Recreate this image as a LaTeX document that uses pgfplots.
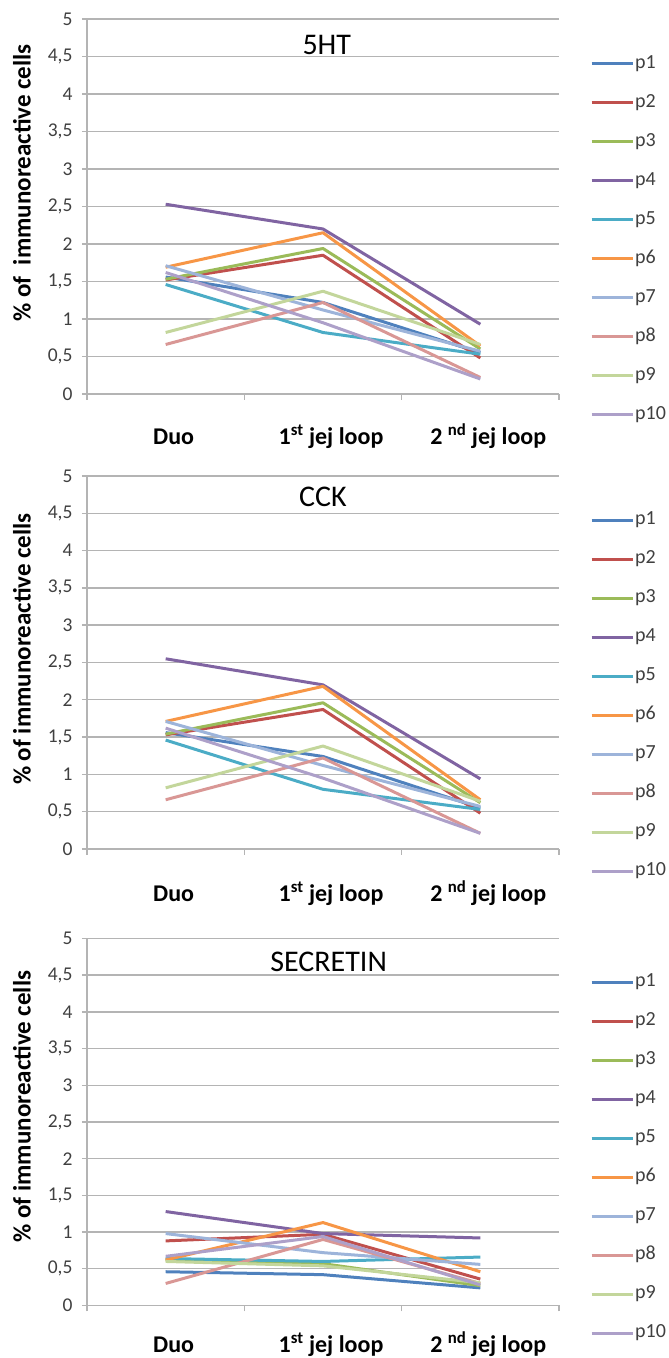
\documentclass[border=0pt]{standalone}
\usepackage{fontspec}
\setmainfont{Carlito}
\usepackage{pgfplots}
\pgfplotsset{compat=1.18}

\definecolor{c1}{HTML}{4F81BD}
\definecolor{c2}{HTML}{C0504D}
\definecolor{c3}{HTML}{9BBB59}
\definecolor{c4}{HTML}{8064A2}
\definecolor{c5}{HTML}{4BACC6}
\definecolor{c6}{HTML}{F79646}
\definecolor{c7}{HTML}{9DB4DA}
\definecolor{c8}{HTML}{D99795}
\definecolor{c9}{HTML}{C3D69B}
\definecolor{c10}{HTML}{ADA0C9}
\definecolor{gridgray}{HTML}{B4B4B4}
\definecolor{txtgray}{HTML}{404040}

\pgfplotsset{
  panel/.style={
    scale only axis, width=472pt,
    xmin=-0.5, xmax=2.5, ymin=0, ymax=5,
    axis lines*=left,
    axis line style={draw=gridgray, line width=1.4pt},
    ytick={0,0.5,...,5},
    ymajorgrids, grid style={draw=gridgray, line width=1.4pt},
    tick align=outside, major tick length=5pt, minor tick length=6pt,
    tick style={draw=gridgray, line width=1.4pt},
    xtick={0,1,2}, minor xtick={-0.5,0.5,1.5,2.5},
    major x tick style={draw=none},
    xticklabels={Duo, 1\textsuperscript{st} jej loop, 2 \textsuperscript{nd} jej loop},
    xticklabel style={font=\fontsize{24}{24}\selectfont\bfseries, anchor=base, xshift=8pt},
    yticklabel style={font=\fontsize{19.5}{19.5}\selectfont, text=txtgray, xshift=-6pt},
    /pgf/number format/use comma,
    /pgf/number format/assume math mode=true,
    ylabel style={font=\fontsize{25}{25}\selectfont\bfseries, anchor=center},
    legend style={at={(1.0657,0.907)}, anchor=north west, draw=none, fill=none,
      inner sep=0pt, row sep=20pt,
      nodes={inner sep=1pt, text height=13pt, text depth=4pt, text=txtgray,
        font=\fontsize{20}{20}\selectfont}},
    legend cell align=left,
    legend image code/.code={\draw[##1, line width=3pt] (0pt,0pt) -- (41pt,0pt);},
    no markers,
    every axis plot/.append style={line width=3pt, line join=round},
    cycle list={{c1},{c2},{c3},{c4},{c5},{c6},{c7},{c8},{c9},{c10}},
  }
}

\begin{document}
\begin{tikzpicture}
\useasboundingbox (0pt,0pt) rectangle (669pt,1358pt);

% 5HT
\begin{axis}[panel, at={(87pt,964pt)}, anchor=south west, height=375pt,
  xticklabel style={yshift=-46pt},
  ylabel={\% of~~immunoreactive cells},
  ylabel style={at={(-0.138,0.563)}}]
\addplot coordinates {(0,1.56) (1,1.22) (2,0.55)};
\addplot coordinates {(0,1.52) (1,1.85) (2,0.48)};
\addplot coordinates {(0,1.53) (1,1.94) (2,0.60)};
\addplot coordinates {(0,2.53) (1,2.20) (2,0.93)};
\addplot coordinates {(0,1.46) (1,0.82) (2,0.53)};
\addplot coordinates {(0,1.69) (1,2.15) (2,0.64)};
\addplot coordinates {(0,1.71) (1,1.12) (2,0.57)};
\addplot coordinates {(0,0.66) (1,1.22) (2,0.22)};
\addplot coordinates {(0,0.82) (1,1.37) (2,0.66)};
\addplot coordinates {(0,1.62) (1,0.95) (2,0.20)};
\legend{p1,p2,p3,p4,p5,p6,p7,p8,p9,p10}
\node[font=\fontsize{30}{30}\selectfont] at (rel axis cs:0.508,0.93) {5HT};
\end{axis}

% CCK
\begin{axis}[panel, at={(87pt,509pt)}, anchor=south west, height=373pt,
  xticklabel style={yshift=-48pt},
  ylabel={\% of immunoreactive cells},
  ylabel style={at={(-0.138,0.536)}}]
\addplot coordinates {(0,1.56) (1,1.24) (2,0.55)};
\addplot coordinates {(0,1.53) (1,1.87) (2,0.48)};
\addplot coordinates {(0,1.54) (1,1.96) (2,0.62)};
\addplot coordinates {(0,2.55) (1,2.20) (2,0.94)};
\addplot coordinates {(0,1.46) (1,0.80) (2,0.53)};
\addplot coordinates {(0,1.71) (1,2.18) (2,0.66)};
\addplot coordinates {(0,1.71) (1,1.12) (2,0.57)};
\addplot coordinates {(0,0.66) (1,1.22) (2,0.21)};
\addplot coordinates {(0,0.82) (1,1.38) (2,0.64)};
\addplot coordinates {(0,1.62) (1,0.95) (2,0.21)};
\legend{p1,p2,p3,p4,p5,p6,p7,p8,p9,p10}
\node[font=\fontsize{30}{30}\selectfont] at (rel axis cs:0.500,0.944) {CCK};
\end{axis}

% SECRETIN
\begin{axis}[panel, at={(87pt,52.5pt)}, anchor=south west, height=367pt,
  xticklabel style={yshift=-42pt},
  ylabel={\% of immunoreactive cells},
  ylabel style={at={(-0.138,0.542)}}]
\addplot coordinates {(0,0.46) (1,0.42) (2,0.24)};
\addplot coordinates {(0,0.88) (1,0.97) (2,0.36)};
\addplot coordinates {(0,0.62) (1,0.57) (2,0.27)};
\addplot coordinates {(0,1.28) (1,0.98) (2,0.92)};
\addplot coordinates {(0,0.64) (1,0.60) (2,0.66)};
\addplot coordinates {(0,0.62) (1,1.13) (2,0.46)};
\addplot coordinates {(0,0.98) (1,0.72) (2,0.56)};
\addplot coordinates {(0,0.30) (1,0.90) (2,0.30)};
\addplot coordinates {(0,0.60) (1,0.54) (2,0.31)};
\addplot coordinates {(0,0.67) (1,0.94) (2,0.28)};
\legend{p1,p2,p3,p4,p5,p6,p7,p8,p9,p10}
\node[font=\fontsize{30}{30}\selectfont] at (rel axis cs:0.512,0.935) {SECRETIN};
\end{axis}
\end{tikzpicture}
\end{document}
